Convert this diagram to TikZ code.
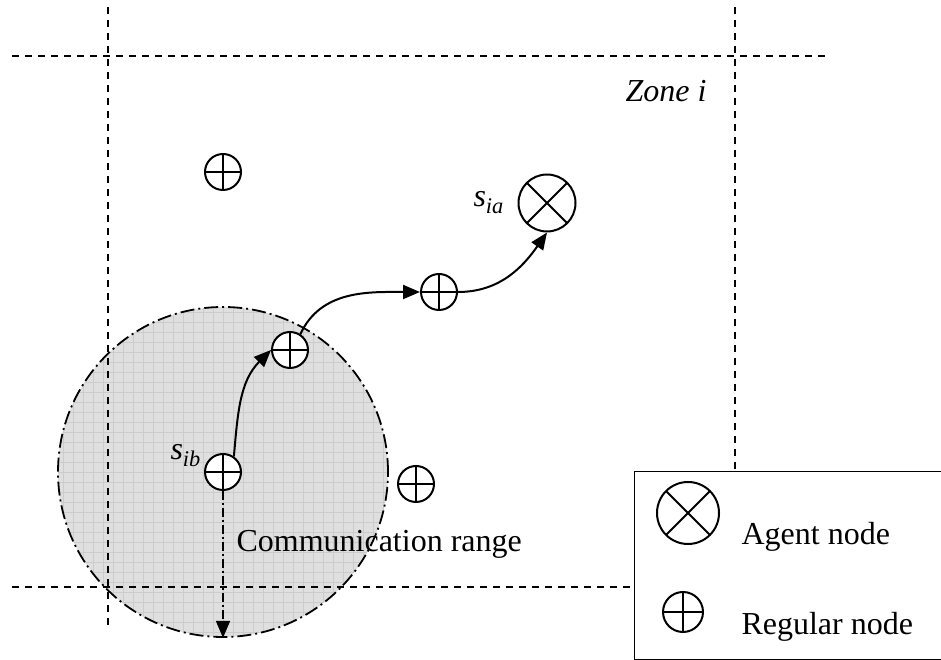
\documentclass[tikz,border=0pt]{standalone}
\usepackage{amsmath}
\usepackage{fontspec}
\setmainfont{LiberationSerif}[Extension=.ttf, UprightFont=*-Regular, ItalicFont=*-Italic, BoldFont=*-Bold]
\usepackage{tikz}
\usetikzlibrary{arrows.meta,positioning}

\begin{document}
\begin{tikzpicture}[
    x=1pt, y=1pt,
    font=\fontsize{32}{38}\selectfont,
    zoneline/.style={line width=1.6pt, dash pattern=on 7pt off 6pt},
    rangedisc/.style={circle, draw, fill=gray!25, line width=1.8pt, inner sep=0pt,
        dash pattern=on 14pt off 4pt on 2pt off 4pt,
        path picture={\draw[step=10pt, gray!40, line width=0.5pt, solid]
            (path picture bounding box.south west) grid (path picture bounding box.north east);}},
    regnode/.style={circle, draw, fill=white, line width=2pt, minimum size=36pt, inner sep=0pt,
        path picture={\draw[line width=2pt]
            (path picture bounding box.north) -- (path picture bounding box.south)
            (path picture bounding box.west) -- (path picture bounding box.east);}},
    agentnode/.style={circle, draw, fill=white, line width=2pt, minimum size=57pt, inner sep=0pt,
        path picture={\draw[line width=2pt]
            (path picture bounding box.north west) -- (path picture bounding box.south east)
            (path picture bounding box.south west) -- (path picture bounding box.north east);}},
    arr/.style={-{Triangle[length=17pt, width=14pt]}, line width=2pt},
    rangearr/.style={-{Triangle[length=17pt, width=14pt]}, line width=1.6pt,
        dash pattern=on 9pt off 3pt on 2pt off 3pt}
]
\useasboundingbox (0,0) rectangle (941,660);

% communication range of s_ib
\node[rangedisc, minimum size=330pt] (range) at (223,188) {};

% zone borders
\draw[zoneline] (12,604) -- (828,604);
\draw[zoneline] (108,653) -- (108,30);
\coordinate (zr) at (735,653);
\coordinate (zb) at (12,73);

% legend
\node[draw, line width=1.2pt, minimum width=307pt, minimum height=188pt, anchor=south west, inner sep=0pt] (legend) at (634,0) {};
\draw[zoneline] (zr) -- (zr |- legend.north);
\draw[zoneline] (zb) -- (zb -| legend.west);

\node[agentnode, minimum size=62pt] (lagent) at (688,147) {};
\node[regnode, minimum size=40pt] (lreg) at (683,48) {};
\node[anchor=base west] (lagenttxt) at (738,115) {Agent node};
\node[anchor=base west] (lregtxt) at (738,25) {Regular node};

% sensor nodes
\node[regnode] (n1) at (223,488) {};
\node[regnode] (sib) at (223,188) {};
\node[regnode] (n2) at (290,310) {};
\node[regnode] (n3) at (439,368) {};
\node[regnode] (n4) at (416,176) {};
\node[agentnode] (sia) at (547,457) {};

\node[anchor=base west] (sialbl) at (470,453) {\textit{s}$_{\textit{ia}}$};
\node[anchor=base west] (siblbl) at (167,200) {\textit{s}$_{\textit{ib}}$};
\node[anchor=base east] (zone) at (710,558) {\textit{Zone i}};
\node[anchor=base west] (rangetxt) at (233,108) {Communication range};

% route to the agent
\draw[arr] (sib.55) to[out=85, in=225] (n2.west);
\draw[arr] (n2.57) to[out=65, in=180] (n3.west);
\draw[arr] (n3.east) to[out=0, in=235] (sia.south);
\draw[rangearr] (sib.south) -- (range.south);
\end{tikzpicture}
\end{document}
